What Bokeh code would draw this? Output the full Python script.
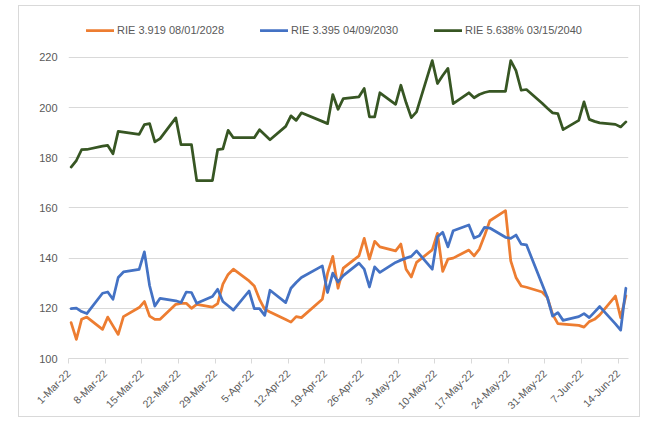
from datetime import datetime, timedelta
from bokeh.plotting import figure
from bokeh.models import (Range1d, FixedTicker, CustomJSTickFormatter, Legend, LegendItem,
                          ColumnDataSource)
from bokeh.embed import file_html
from bokeh.resources import INLINE

dates = [
    "2022-03-01", "2022-03-02", "2022-03-03", "2022-03-04", "2022-03-07", "2022-03-08", "2022-03-09",
    "2022-03-10", "2022-03-11", "2022-03-14", "2022-03-15", "2022-03-16", "2022-03-17", "2022-03-18",
    "2022-03-21", "2022-03-22", "2022-03-23", "2022-03-24", "2022-03-25", "2022-03-28", "2022-03-29",
    "2022-03-30", "2022-03-31", "2022-04-01",
    "2022-04-04", "2022-04-05", "2022-04-06", "2022-04-07", "2022-04-08", "2022-04-11", "2022-04-12",
    "2022-04-13", "2022-04-14", "2022-04-18", "2022-04-19", "2022-04-20", "2022-04-21", "2022-04-22",
    "2022-04-25", "2022-04-26", "2022-04-27", "2022-04-28", "2022-04-29",
    "2022-05-02", "2022-05-03", "2022-05-04", "2022-05-05", "2022-05-06", "2022-05-09", "2022-05-10",
    "2022-05-11", "2022-05-12", "2022-05-13", "2022-05-16", "2022-05-17", "2022-05-18", "2022-05-19",
    "2022-05-20", "2022-05-23", "2022-05-24", "2022-05-25", "2022-05-26", "2022-05-27", "2022-05-30",
    "2022-05-31",
    "2022-06-01", "2022-06-02", "2022-06-03", "2022-06-06", "2022-06-07", "2022-06-08", "2022-06-09",
    "2022-06-10", "2022-06-13", "2022-06-14", "2022-06-15",
]

rie_2028 = [
    114.3, 107.6, 115.6, 116.5, 111.6, 116.5, 113.0, 109.6, 116.7, 120.3, 122.7, 116.9, 115.6, 115.6,
    121.6, 122.0, 122.0, 120.0, 121.6, 120.5, 121.9, 129.6, 133.5, 135.6,
    130.9, 128.9, 123.6, 119.6, 118.5, 115.5, 114.5, 116.7, 116.3, 123.6, 134.0, 140.7, 128.0, 136.0,
    140.9, 147.9, 139.6, 146.7, 144.5,
    142.9, 145.6, 135.6, 132.5, 138.3, 143.3, 149.9, 134.7, 139.6, 140.0, 143.2, 140.9, 143.6, 149.0,
    154.9, 158.9, 138.9, 132.3, 128.9, 128.4, 126.5, 124.3,
    117.6, 113.9, 113.7, 113.2, 112.5, 114.7, 115.6, 117.4, 124.9, 116.3, 125.0,
]

rie_2030 = [
    119.9, 120.1, 118.7, 117.9, 126.0, 126.5, 123.6, 132.3, 134.5, 135.5, 142.5, 129.0, 120.9, 124.0,
    123.0, 122.3, 126.5, 126.3, 122.0, 124.7, 127.6, 122.7, 121.0, 119.3,
    126.9, 119.9, 119.9, 117.2, 127.2, 122.3, 128.0, 130.3, 132.3, 136.9, 126.3, 134.0, 130.5, 133.0,
    138.0, 135.6, 128.5, 136.5, 134.3,
    138.3, 139.2, 140.0, 140.7, 142.9, 135.6, 148.5, 150.3, 144.5, 150.9, 153.2, 148.0, 148.9, 152.3,
    152.0, 148.3, 147.9, 149.2, 145.6, 145.3, 129.6, 124.3,
    116.9, 118.3, 115.2, 116.7, 117.9, 116.3, 118.5, 120.7, 113.8, 111.3, 128.0,
]

rie_2040 = [
    176.3, 178.9, 183.2, 183.3, 184.6, 184.9, 181.6, 190.5, 190.2, 189.3, 193.2, 193.6, 186.3, 187.6,
    195.9, 185.2, 185.2, 185.2, 170.9, 170.9, 183.2, 183.5, 190.9, 188.0,
    188.0, 188.0, 191.2, 189.2, 187.2, 192.5, 196.7, 194.9, 197.9, 194.5, 193.6, 205.2, 199.3, 203.6,
    204.3, 207.6, 196.3, 196.3, 205.9,
    201.3, 208.9, 202.0, 196.0, 198.3, 218.7, 209.6, 212.8, 215.6, 201.6, 205.9, 203.9, 205.2, 206.0,
    206.5, 206.5, 218.7, 214.7, 206.9, 207.2, 201.7, 199.7,
    197.9, 197.6, 191.2, 194.9, 202.3, 195.3, 194.5, 193.9, 193.3, 192.3, 194.3,
]

series_names = ["RIE 3.919 08/01/2028", "RIE 3.395 04/09/2030", "RIE 5.638% 03/15/2040"]
series_colors = ["#ED7D31", "#4472C4", "#375623"]

tick_dates = ["2022-03-01", "2022-03-08", "2022-03-15", "2022-03-22", "2022-03-29", "2022-04-05",
              "2022-04-12", "2022-04-19", "2022-04-26", "2022-05-03", "2022-05-10", "2022-05-17",
              "2022-05-24", "2022-05-31", "2022-06-07", "2022-06-14"]
tick_labels = ["1-Mar-22", "8-Mar-22", "15-Mar-22", "22-Mar-22", "29-Mar-22", "5-Apr-22",
               "12-Apr-22", "19-Apr-22", "26-Apr-22", "3-May-22", "10-May-22", "17-May-22",
               "24-May-22", "31-May-22", "7-Jun-22", "14-Jun-22"]
y_ticks = [100, 120, 140, 160, 180, 200, 220]
y_top = 234.7  # headroom above the 220 gridline, where the legend sits

EPOCH = datetime(1970, 1, 1)


def ms(d):
    return (d - EPOCH).total_seconds() * 1000.0


# points sit in the middle of their day slot (Excel date axis, "between tick marks")
x_vals = [datetime.strptime(d, "%Y-%m-%d") + timedelta(hours=12) for d in dates]
x_start = datetime.strptime(dates[0], "%Y-%m-%d")
x_end = datetime.strptime(dates[-1], "%Y-%m-%d") + timedelta(days=1)
tick_ms = [ms(datetime.strptime(d, "%Y-%m-%d")) for d in tick_dates]

p = figure(width=620, height=410, x_axis_type="datetime", output_backend="svg",
           toolbar_location=None, x_range=Range1d(x_start, x_end),
           y_range=Range1d(y_ticks[0], y_top),
           min_border_left=49, min_border_top=14, min_border_right=13, min_border_bottom=60)
p.margin = (5, 0, 0, 18)
p.styles = {"border": "1px solid #D9D9D9", "box-sizing": "content-box"}
p.outline_line_color = None
p.background_fill_color = "white"
p.border_fill_color = "white"

renderers = []
for vals, name, col in zip([rie_2028, rie_2030, rie_2040], series_names, series_colors):
    src = ColumnDataSource(dict(x=x_vals, y=vals))
    r = p.line("x", "y", source=src, line_color=col, line_width=2.75, line_join="round",
               line_cap="round")
    renderers.append((name, r))

# axes
p.xaxis.ticker = FixedTicker(ticks=tick_ms)
p.xaxis.formatter = CustomJSTickFormatter(args=dict(tvals=tick_ms, tlabels=tick_labels), code="""
    const i = tvals.indexOf(tick);
    return i >= 0 ? tlabels[i] : "";
""")
p.xaxis.major_label_orientation = 0.785398
p.xaxis.axis_line_color = "#D9D9D9"
p.xaxis.major_tick_line_color = "#D9D9D9"
p.xaxis.major_tick_out = 5
p.xaxis.major_tick_in = 0
p.xaxis.minor_tick_line_color = None
p.xaxis.major_label_text_font = "Liberation Sans"
p.xaxis.major_label_text_font_size = "10.5px"
p.xaxis.major_label_text_color = "#595959"
p.xaxis.major_label_standoff = 8

p.yaxis.ticker = FixedTicker(ticks=y_ticks)
p.yaxis.axis_line_color = None
p.yaxis.major_tick_line_color = None
p.yaxis.minor_tick_line_color = None
p.yaxis.major_tick_out = 0
p.yaxis.major_label_standoff = 11
p.yaxis.major_label_text_font = "Liberation Sans"
p.yaxis.major_label_text_font_size = "11px"
p.yaxis.major_label_text_color = "#595959"

p.xgrid.grid_line_color = None
p.ygrid.grid_line_color = "#D9D9D9"
p.ygrid.grid_line_width = 1

legend = Legend(items=[LegendItem(label=n, renderers=[r]) for n, r in renderers],
                orientation="horizontal", location=(18, 322), padding=0, margin=0,
                spacing=36, label_standoff=3, glyph_width=28, glyph_height=12,
                label_text_font="Liberation Sans", label_text_font_size="11px",
                label_text_color="#595959", border_line_color=None,
                background_fill_alpha=0, label_height=12)
p.add_layout(legend, "center")

open("out.html", "w").write(file_html(p, INLINE))
